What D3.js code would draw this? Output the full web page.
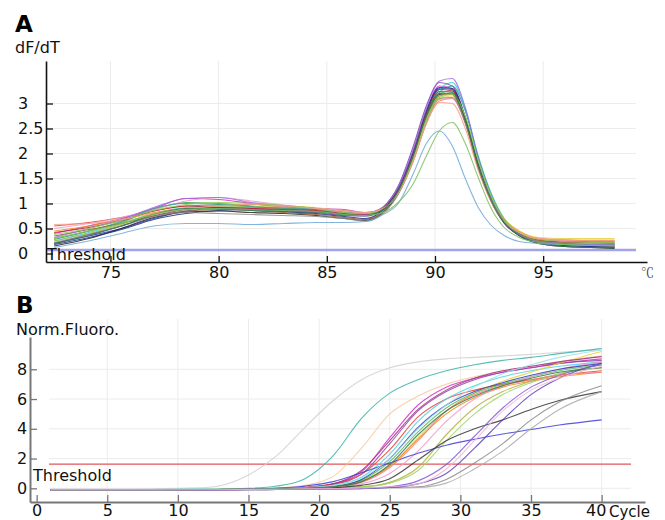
<!DOCTYPE html>
<html>
<head>
<meta charset="utf-8">
<script src="https://cdn.jsdelivr.net/npm/d3@7"></script>
<style>
    body { margin: 0; background: #fff; }
    svg { display: block; font-family: "DejaVu Sans", Verdana, sans-serif; }
</style>
</head>
<body>
<div id="chart"></div>
<script>
(function(d3) {
    "use strict";

    // panel A - melt curve
    var meltTemps = [72.4, 74, 75.5, 77, 78.5, 80, 81.5, 83, 84.5, 85.8, 86.8, 87.6, 88.3, 89, 89.6, 90.2, 90.8, 91.4, 92, 92.6, 93.2, 93.9, 94.8, 96, 97.2, 98.3];
    var meltCurves = [
        [0.55, 0.62, 0.72, 0.85, 0.95, 0.97, 0.93, 0.9, 0.88, 0.86, 0.8, 0.9, 1.25, 1.9, 2.65, 3.15, 3.2, 2.7, 1.8, 1.12, 0.68, 0.44, 0.3, 0.26, 0.24, 0.24],
        [0.3, 0.45, 0.62, 0.88, 1.02, 1.0, 0.95, 0.9, 0.85, 0.78, 0.75, 0.87, 1.2, 1.9, 2.7, 3.2, 3.25, 2.7, 1.8, 1.1, 0.65, 0.4, 0.26, 0.2, 0.17, 0.15],
        [0.2, 0.35, 0.5, 0.7, 0.85, 0.9, 0.88, 0.86, 0.84, 0.78, 0.76, 0.9, 1.28, 2.0, 2.8, 3.3, 3.28, 2.7, 1.78, 1.1, 0.64, 0.38, 0.24, 0.18, 0.14, 0.12],
        [0.4, 0.55, 0.7, 0.9, 1.1, 1.08, 1.0, 0.93, 0.9, 0.88, 0.82, 0.92, 1.3, 2.05, 2.85, 3.35, 3.3, 2.7, 1.75, 1.05, 0.62, 0.4, 0.28, 0.24, 0.22, 0.22],
        [0.25, 0.42, 0.6, 0.8, 0.92, 0.95, 0.93, 0.92, 0.9, 0.82, 0.78, 0.9, 1.22, 1.92, 2.72, 3.28, 3.42, 2.9, 1.95, 1.2, 0.7, 0.42, 0.27, 0.22, 0.2, 0.18],
        [0.45, 0.55, 0.68, 0.82, 0.9, 0.93, 0.92, 0.9, 0.87, 0.84, 0.8, 0.88, 1.2, 1.85, 2.6, 3.05, 3.1, 2.62, 1.78, 1.12, 0.68, 0.44, 0.3, 0.27, 0.26, 0.26],
        [0.3, 0.45, 0.6, 0.78, 0.88, 0.92, 0.94, 0.95, 0.92, 0.83, 0.8, 0.9, 1.2, 1.88, 2.62, 3.1, 3.15, 2.7, 1.85, 1.15, 0.7, 0.45, 0.32, 0.3, 0.3, 0.3],
        [0.2, 0.38, 0.55, 0.75, 0.88, 0.92, 0.9, 0.86, 0.82, 0.76, 0.75, 0.92, 1.35, 2.15, 2.95, 3.42, 3.35, 2.72, 1.75, 1.05, 0.6, 0.36, 0.22, 0.17, 0.15, 0.14],
        [0.15, 0.3, 0.5, 0.72, 0.83, 0.85, 0.82, 0.8, 0.76, 0.7, 0.66, 0.82, 1.2, 1.9, 2.7, 3.18, 3.2, 2.68, 1.76, 1.08, 0.63, 0.36, 0.2, 0.14, 0.12, 0.1],
        [0.5, 0.6, 0.72, 0.88, 1.05, 1.12, 1.05, 0.97, 0.9, 0.85, 0.8, 0.9, 1.22, 1.88, 2.62, 3.08, 3.1, 2.6, 1.72, 1.06, 0.64, 0.42, 0.3, 0.26, 0.25, 0.25],
        [0.28, 0.45, 0.64, 0.9, 1.0, 0.98, 0.94, 0.9, 0.88, 0.82, 0.78, 0.88, 1.22, 1.9, 2.7, 3.22, 3.35, 2.85, 1.92, 1.18, 0.68, 0.4, 0.25, 0.2, 0.18, 0.17],
        [0.35, 0.48, 0.6, 0.75, 0.85, 0.88, 0.86, 0.82, 0.78, 0.72, 0.68, 0.84, 1.25, 1.95, 2.75, 3.2, 3.18, 2.62, 1.7, 1.04, 0.62, 0.38, 0.25, 0.2, 0.18, 0.18],
        [0.25, 0.4, 0.58, 0.8, 0.9, 0.95, 0.98, 0.96, 0.9, 0.8, 0.78, 0.9, 1.22, 1.9, 2.68, 3.15, 3.2, 2.72, 1.82, 1.12, 0.66, 0.4, 0.26, 0.22, 0.2, 0.2],
        [0.42, 0.52, 0.66, 0.85, 0.95, 0.92, 0.9, 0.88, 0.86, 0.8, 0.78, 0.92, 1.3, 2.02, 2.8, 3.28, 3.25, 2.68, 1.76, 1.08, 0.64, 0.4, 0.27, 0.23, 0.22, 0.21],
        [0.18, 0.32, 0.48, 0.68, 0.8, 0.86, 0.88, 0.84, 0.8, 0.74, 0.7, 0.88, 1.3, 2.05, 2.85, 3.32, 3.3, 2.72, 1.78, 1.08, 0.62, 0.36, 0.22, 0.16, 0.14, 0.13],
        [0.32, 0.5, 0.68, 0.92, 1.1, 1.12, 1.02, 0.95, 0.9, 0.82, 0.79, 0.93, 1.32, 2.08, 2.9, 3.45, 3.5, 2.92, 1.9, 1.12, 0.64, 0.38, 0.24, 0.2, 0.18, 0.17],
        [0.22, 0.38, 0.55, 0.74, 0.82, 0.8, 0.78, 0.76, 0.74, 0.7, 0.65, 0.8, 1.18, 1.86, 2.62, 3.1, 3.12, 2.62, 1.74, 1.08, 0.64, 0.38, 0.24, 0.18, 0.16, 0.15],
        [0.38, 0.5, 0.66, 0.86, 0.98, 1.02, 1.0, 0.96, 0.9, 0.82, 0.8, 0.9, 1.22, 1.9, 2.66, 3.12, 3.18, 2.74, 1.86, 1.15, 0.68, 0.42, 0.28, 0.24, 0.22, 0.22],
        [0.58, 0.6, 0.68, 0.8, 0.9, 0.95, 0.98, 0.95, 0.9, 0.86, 0.82, 0.9, 1.2, 1.86, 2.6, 3.02, 3.0, 2.5, 1.66, 1.04, 0.64, 0.42, 0.3, 0.28, 0.27, 0.27],
        [0.2, 0.36, 0.55, 0.78, 0.9, 0.9, 0.86, 0.84, 0.83, 0.78, 0.76, 0.88, 1.24, 1.96, 2.76, 3.24, 3.22, 2.66, 1.74, 1.06, 0.62, 0.36, 0.2, 0.14, 0.12, 0.11],
        [0.12, 0.25, 0.4, 0.55, 0.6, 0.6, 0.58, 0.6, 0.62, 0.62, 0.64, 0.78, 1.0, 1.6, 2.2, 2.45, 2.15, 1.5, 0.92, 0.56, 0.36, 0.24, 0.2, 0.18, 0.17, 0.17],
        [0.3, 0.45, 0.6, 0.78, 0.88, 0.9, 0.88, 0.86, 0.84, 0.78, 0.76, 0.82, 1.02, 1.4, 1.95, 2.45, 2.62, 2.2, 1.52, 0.9, 0.52, 0.32, 0.22, 0.18, 0.16, 0.15]
    ];
    var meltColors = ["#e8423b", "#3fa34d", "#2b3fb8", "#d62fc0", "#3cc6d8", "#f08a24", "#e6d23a", "#7b3fb0", "#222222", "#f29ac8",
        "#2aa198", "#9a5b2e", "#a7b830", "#b0203a", "#1d2f80", "#9a6be0", "#888888", "#8fd14f", "#f4a08a", "#2e7d4f",
        "#6fa8d6", "#7cbf5a"];
    var meltTicksX = [75, 80, 85, 90, 95];
    var meltTicksY = [0, 0.5, 1, 1.5, 2, 2.5, 3];
    var meltGridY = [0.5, 1, 1.5, 2, 2.5, 3];
    var meltThreshold = 0.07;

    // panel B - amplification curve
    var ampCycles = [1, 4, 8, 12, 15, 17, 19, 21, 23, 25, 27, 29, 31, 33, 35, 37, 40];
    var ampCurves = [
        [-0.05, -0.05, -0.03, 0.05, 0.9, 2.2, 4.1, 5.9, 7.3, 8.1, 8.5, 8.7, 8.8, 8.9, 9.0, 9.15, 9.3],
        [-0.1, -0.1, -0.08, -0.05, 0.0, 0.15, 0.65, 2.2, 4.7, 6.4, 7.3, 7.9, 8.3, 8.6, 8.8, 9.05, 9.4],
        [-0.1, -0.1, -0.1, -0.08, -0.05, 0.02, 0.2, 0.8, 2.7, 5.0, 6.2, 7.0, 7.5, 7.9, 8.2, 8.5, 8.9],
        [-0.15, -0.12, -0.1, -0.1, -0.08, -0.03, 0.05, 0.3, 1.1, 3.4, 5.6, 6.8, 7.4, 7.8, 8.1, 8.4, 8.7],
        [-0.1, -0.1, -0.1, -0.08, -0.06, -0.02, 0.05, 0.25, 0.95, 3.0, 5.2, 6.5, 7.3, 7.8, 8.1, 8.4, 8.6],
        [-0.1, -0.1, -0.1, -0.08, -0.05, 0.0, 0.08, 0.3, 0.95, 2.6, 4.8, 6.0, 6.6, 7.0, 7.3, 7.6, 7.9],
        [-0.12, -0.1, -0.1, -0.08, -0.05, 0.0, 0.05, 0.2, 0.75, 2.3, 4.5, 6.0, 6.9, 7.5, 7.9, 8.2, 8.5],
        [-0.1, -0.1, -0.08, -0.08, -0.06, -0.02, 0.04, 0.15, 0.5, 1.5, 3.4, 5.2, 6.4, 7.2, 7.8, 8.4, 9.2],
        [-0.1, -0.1, -0.1, -0.08, -0.06, -0.02, 0.03, 0.15, 0.55, 1.8, 3.8, 5.4, 6.4, 7.0, 7.5, 7.9, 8.3],
        [-0.15, -0.12, -0.12, -0.1, -0.08, -0.04, 0.02, 0.12, 0.45, 1.5, 3.3, 5.0, 6.1, 6.8, 7.2, 7.5, 7.8],
        [-0.1, -0.1, -0.1, -0.1, -0.08, -0.05, 0.0, 0.08, 0.3, 1.0, 2.5, 4.5, 6.0, 6.9, 7.5, 8.0, 8.5],
        [-0.12, -0.12, -0.1, -0.1, -0.08, -0.04, 0.02, 0.12, 0.6, 2.0, 4.1, 5.6, 6.5, 7.1, 7.6, 8.0, 8.4],
        [-0.1, -0.1, -0.08, -0.08, -0.06, -0.03, 0.0, 0.05, 0.1, 0.4, 1.4, 3.6, 5.4, 6.5, 7.2, 7.7, 8.1],
        [-0.1, -0.1, -0.1, -0.08, -0.06, -0.03, 0.0, 0.04, 0.1, 0.35, 1.2, 3.2, 5.0, 6.3, 7.1, 7.7, 8.3],
        [-0.12, -0.12, -0.1, -0.1, -0.07, -0.03, 0.05, 0.3, 1.2, 3.2, 5.3, 6.6, 7.4, 7.9, 8.2, 8.5, 8.85],
        [-0.1, -0.1, -0.1, -0.08, -0.05, 0.0, 0.15, 0.45, 1.05, 1.7, 2.35, 2.9, 3.3, 3.65, 3.95, 4.25, 4.6],
        [-0.1, -0.1, -0.1, -0.1, -0.08, -0.05, 0.0, 0.05, 0.2, 0.65, 1.9, 3.2, 4.0, 4.6, 5.3, 5.9, 6.5],
        [-0.1, -0.1, -0.1, -0.1, -0.1, -0.08, -0.06, -0.04, 0.0, 0.05, 0.1, 0.6, 1.7, 3.0, 4.6, 5.8, 6.9],
        [-0.12, -0.12, -0.12, -0.1, -0.1, -0.08, -0.06, -0.05, -0.02, 0.02, 0.05, 0.35, 1.3, 2.5, 4.0, 5.3, 6.5],
        [-0.1, -0.1, -0.1, -0.1, -0.1, -0.08, -0.06, -0.04, -0.02, 0.05, 0.3, 1.0, 2.7, 4.6, 6.3, 7.4, 8.4],
        [-0.1, -0.1, -0.1, -0.1, -0.08, -0.06, -0.04, -0.02, 0.0, 0.1, 0.5, 1.6, 3.5, 5.4, 6.8, 7.6, 8.3],
        [-0.1, -0.1, -0.1, -0.08, -0.06, -0.03, 0.02, 0.1, 0.4, 1.4, 3.2, 5.2, 6.3, 6.9, 7.3, 7.6, 7.8],
        [-0.1, -0.1, -0.1, -0.08, -0.06, -0.02, 0.05, 0.2, 0.7, 2.0, 4.0, 5.6, 6.8, 7.7, 8.3, 8.8, 9.3],
        [-0.1, -0.1, -0.1, -0.08, -0.06, -0.03, 0.02, 0.1, 0.45, 1.6, 3.6, 5.2, 6.2, 6.9, 7.4, 7.8, 8.1],
        [-0.1, -0.1, -0.1, -0.1, -0.08, -0.06, -0.04, -0.02, 0.02, 0.1, 0.3, 1.3, 3.2, 5.2, 6.6, 7.4, 8.2]
    ];
    var ampColors = ["#d0d0d0", "#3bb3a8", "#f5c99a", "#d62fc0", "#8e44ad", "#e8423b", "#4fd0e0", "#e6d23a", "#5cb85c", "#f08a24",
        "#f29ac8", "#2b3fb8", "#b5b03a", "#9ed36a", "#a0307a", "#3c3cdc", "#333333", "#888888", "#aaaaaa", "#5a3fc0",
        "#7a5cd6", "#f07f7f", "#9fe0e8", "#2e7d4f", "#f5b5d5"];
    var ampTicksX = [0, 5, 10, 15, 20, 25, 30, 35, 40];
    var ampTicksY = [0, 2, 4, 6, 8];
    var ampGridX = [5, 10, 15, 20, 25, 30, 35, 40];
    var ampThreshold = 1.63;

    var width = 665, height = 520;

    var svg = d3.select("#chart")
        .append("svg")
        .attr("width", width)
        .attr("height", height);

    // ---------- A ----------
    var xA = d3.scaleLinear().domain([72.02, 99.8]).range([46, 647]);
    var yA = d3.scaleLinear().domain([-0.17, 3.85]).range([262, 61]);

    var panelA = svg.append("g");

    panelA.append("g")
        .selectAll("line")
        .data(meltTicksX)
        .enter()
        .append("line")
        .attr("x1", function(d) { return xA(d); })
        .attr("x2", function(d) { return xA(d); })
        .attr("y1", 61)
        .attr("y2", 262)
        .attr("stroke", "#ececec");
    panelA.append("g")
        .selectAll("line")
        .data(meltGridY)
        .enter()
        .append("line")
        .attr("x1", 46)
        .attr("x2", 636)
        .attr("y1", function(d) { return yA(d); })
        .attr("y2", function(d) { return yA(d); })
        .attr("stroke", "#ececec");

    panelA.append("line")
        .attr("x1", 46)
        .attr("x2", 636)
        .attr("y1", yA(meltThreshold))
        .attr("y2", yA(meltThreshold))
        .attr("stroke", "#a3a3ec")
        .attr("stroke-width", 2.5);

    var meltLine = d3.line()
        .x(function(d, i) { return xA(meltTemps[i]); })
        .y(function(d) { return yA(d); })
        .curve(d3.curveMonotoneX);

    panelA.append("g")
        .selectAll("path")
        .data(meltCurves)
        .enter()
        .append("path")
        .attr("d", meltLine)
        .attr("fill", "none")
        .attr("stroke", function(d, i) { return meltColors[i]; })
        .attr("stroke-width", 1.1)
        .attr("stroke-opacity", 0.85);

    var axisAX = panelA.append("g")
        .attr("transform", "translate(0,262)")
        .call(d3.axisBottom(xA).tickValues(meltTicksX).tickSizeInner(-6).tickSizeOuter(0).tickPadding(5));
    var axisAY = panelA.append("g")
        .attr("transform", "translate(46,0)")
        .call(d3.axisLeft(yA).tickValues(meltTicksY).tickFormat(function(d) { return String(d); })
            .tickSizeInner(-7).tickSizeOuter(0));
    styleAxis(axisAX, "#111", 1.6);
    styleAxis(axisAY, "#111", 1.6);
    axisAY.selectAll("text")
        .attr("x", 18 - 46)
        .attr("text-anchor", "start");

    panelA.append("text")
        .attr("x", 47)
        .attr("y", 260)
        .attr("font-size", 16)
        .attr("fill", "#111")
        .text("Threshold");
    panelA.append("text")
        .attr("x", 15)
        .attr("y", 32)
        .attr("font-size", 23)
        .attr("font-weight", "bold")
        .attr("fill", "#000")
        .text("A");
    panelA.append("text")
        .attr("x", 15)
        .attr("y", 53)
        .attr("font-size", 16)
        .attr("fill", "#111")
        .text("dF/dT");
    panelA.append("text")
        .attr("x", 641)
        .attr("y", 277)
        .attr("font-family", "'Noto Serif CJK SC', 'DejaVu Serif', serif")
        .attr("font-size", 13)
        .attr("fill", "#444")
        .text("\u2103");

    // ---------- B ----------
    var xB = d3.scaleLinear().domain([-0.47, 43.07]).range([30, 645]);
    var yB = d3.scaleLinear().domain([-0.92, 10.17]).range([502, 337]);

    var panelB = svg.append("g");

    panelB.append("g")
        .selectAll("line")
        .data(ampGridX)
        .enter()
        .append("line")
        .attr("x1", function(d) { return xB(d); })
        .attr("x2", function(d) { return xB(d); })
        .attr("y1", 319)
        .attr("y2", 502)
        .attr("stroke", "#ececec");
    panelB.append("g")
        .selectAll("line")
        .data(ampTicksY)
        .enter()
        .append("line")
        .attr("x1", 49)
        .attr("x2", 631)
        .attr("y1", function(d) { return yB(d); })
        .attr("y2", function(d) { return yB(d); })
        .attr("stroke", "#ececec");

    panelB.append("line")
        .attr("x1", 49)
        .attr("x2", 631)
        .attr("y1", yB(ampThreshold))
        .attr("y2", yB(ampThreshold))
        .attr("stroke", "#e2545a")
        .attr("stroke-width", 1.2);

    var ampLine = d3.line()
        .x(function(d, i) { return xB(ampCycles[i]); })
        .y(function(d) { return yB(d); })
        .curve(d3.curveMonotoneX);

    panelB.append("g")
        .selectAll("path")
        .data(ampCurves)
        .enter()
        .append("path")
        .attr("d", ampLine)
        .attr("fill", "none")
        .attr("stroke", function(d, i) { return ampColors[i]; })
        .attr("stroke-width", 1.1)
        .attr("stroke-opacity", 0.85);

    var axisBX = panelB.append("g")
        .attr("transform", "translate(0,502)")
        .call(d3.axisBottom(xB).tickValues(ampTicksX).tickSizeInner(-7).tickSizeOuter(0).tickPadding(3));
    var axisBY = panelB.append("g")
        .attr("transform", "translate(30,0)")
        .call(d3.axisLeft(yB).tickValues(ampTicksY).tickSizeInner(-7).tickSizeOuter(0));
    styleAxis(axisBX, "#777", 2);
    styleAxis(axisBY, "#777", 2);
    axisBY.selectAll("text")
        .attr("x", 17 - 30)
        .attr("text-anchor", "start");
    axisBX.selectAll(".tick")
        .filter(function(d) { return d === 40; })
        .select("text")
        .attr("dx", -6);

    panelB.append("text")
        .attr("x", 609)
        .attr("y", 517)
        .attr("font-size", 15)
        .attr("fill", "#111")
        .text("Cycle");
    panelB.append("text")
        .attr("x", 33)
        .attr("y", 481)
        .attr("font-size", 16)
        .attr("fill", "#111")
        .text("Threshold");
    panelB.append("text")
        .attr("x", 16)
        .attr("y", 313)
        .attr("font-size", 23)
        .attr("font-weight", "bold")
        .attr("fill", "#000")
        .text("B");
    panelB.append("text")
        .attr("x", 16)
        .attr("y", 335)
        .attr("font-size", 16)
        .attr("fill", "#111")
        .text("Norm.Fluoro.");

    function styleAxis(axisGroup, colour, strokeWidth) {
        axisGroup.select(".domain")
            .attr("stroke", colour)
            .attr("stroke-width", strokeWidth);
        axisGroup.selectAll(".tick line")
            .attr("stroke", colour)
            .attr("stroke-width", 1.3);
        axisGroup.selectAll(".tick text")
            .attr("font-size", 16)
            .attr("font-family", "'DejaVu Sans', Verdana, sans-serif")
            .attr("fill", "#111");
    }
})(window.d3);
</script>
</body>
</html>
